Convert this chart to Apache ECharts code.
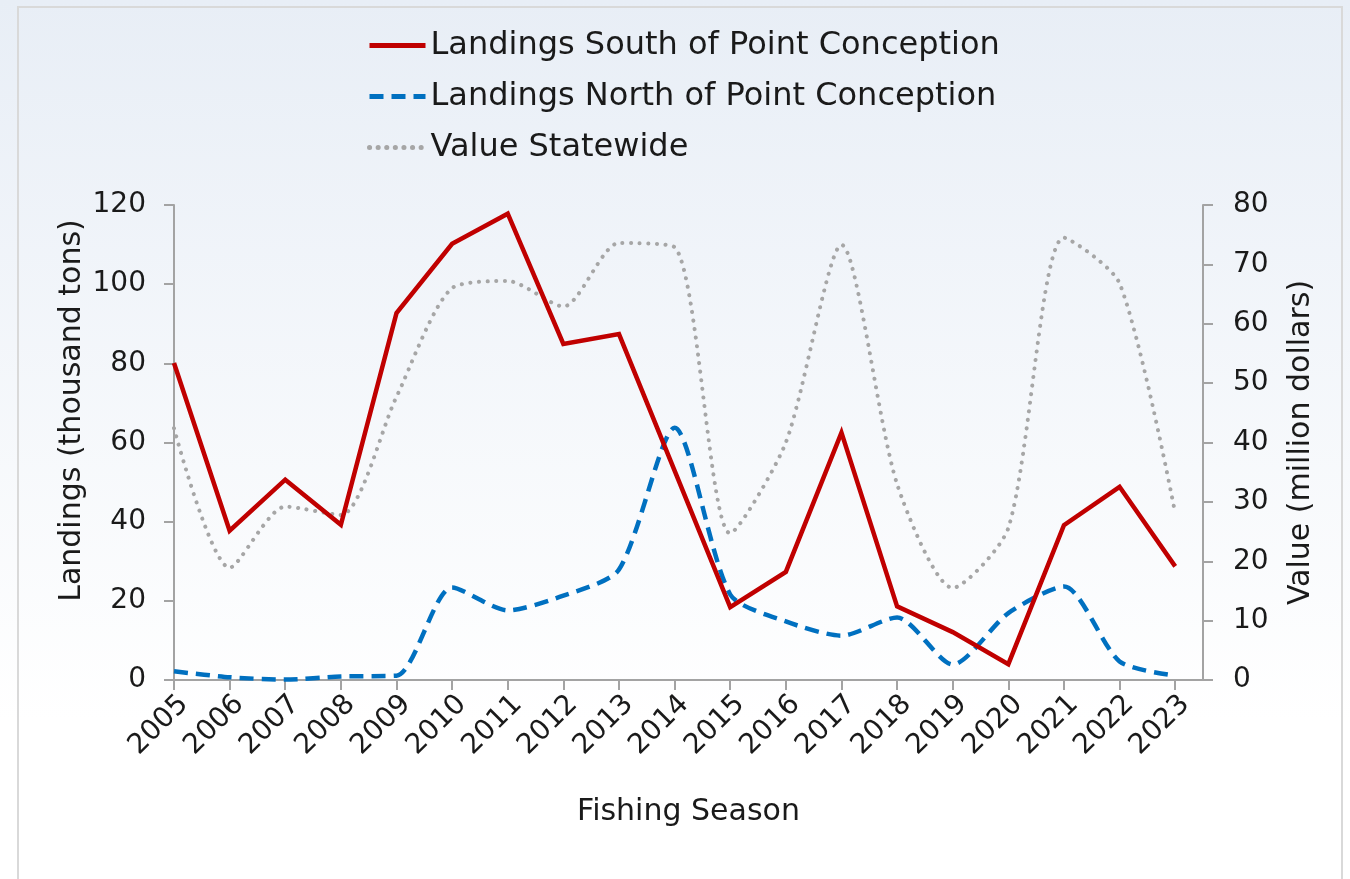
<!DOCTYPE html>
<html>
<head>
<meta charset="utf-8">
<script src="https://cdn.jsdelivr.net/npm/echarts@6/dist/echarts.min.js"></script>
<style>
html, body { margin: 0; padding: 0; }
#chart { width: 1350px; height: 879px; }
</style>
</head>
<body>
<div id="chart"></div>
<script>
// fishing seasons
var years = [2005, 2006, 2007, 2008, 2009, 2010, 2011, 2012, 2013, 2014,
             2015, 2016, 2017, 2018, 2019, 2020, 2021, 2022, 2023];
// landings, thousand tons
var southLandings = [80.1, 37.7, 50.6, 39.2, 92.7, 110.2, 117.8, 84.9, 87.4, 52.9,
                     18.4, 27.3, 62.5, 18.6, 12.1, 4.0, 39.1, 48.8, 28.7];
var northLandings = [2.2, 0.7, 0.1, 0.9, 1.1, 23.4, 17.6, 21.3, 27.9, 63.7,
                     21.6, 14.8, 11.2, 15.8, 3.9, 16.9, 23.6, 4.7, 1.1];
// value, million dollars
var valueStatewide = [42.4, 18.9, 29.2, 27.8, 47.7, 66.0, 67.2, 62.9, 73.6, 72.9,
                      24.7, 40.0, 73.3, 33.0, 15.5, 25.6, 74.5, 66.8, 28.1];

function pairs(vals) {
    return years.map(function (y, i) { return [y, vals[i]]; });
}

var font = 'DejaVu Sans';
var axisColor = '#a3a3a3';
var txt = '#1a1a1a';

var chart = echarts.init(document.getElementById('chart'));
var option = {
    backgroundColor: new echarts.graphic.LinearGradient(0, 0, 0, 1, [
        { offset: 0, color: '#e8eef6' },
        { offset: 0.82, color: '#ffffff' },
        { offset: 1, color: '#ffffff' }
    ]),
    textStyle: { fontFamily: font, color: txt },
    graphic: [{
        type: 'rect',
        shape: { x: 18, y: 7, width: 1324, height: 900 },
        style: { fill: 'none', stroke: '#d9d9d9', lineWidth: 2 },
        silent: true
    }],
    legend: {
        orient: 'vertical',
        left: 362,
        top: 23,
        itemWidth: 56,
        itemHeight: 14,
        itemGap: 16,
        itemStyle: { opacity: 0 },
        lineStyle: { width: 5 },
        textStyle: { fontSize: 32, fontFamily: font, color: txt, lineHeight: 35, padding: [0, 0, 0, 0] },
        data: ['Landings South of Point Conception', 'Landings North of Point Conception', 'Value Statewide']
    },
    grid: { left: 174, right: 147, top: 205, bottom: 199, containLabel: false },
    xAxis: {
        type: 'value',
        min: 2005,
        max: 2023.5,
        interval: 1,
        name: 'Fishing Season',
        nameLocation: 'middle',
        nameGap: 117,
        nameTextStyle: { fontSize: 30, fontFamily: font, color: txt },
        splitLine: { show: false },
        axisLine: { lineStyle: { color: axisColor, width: 2 } },
        axisTick: { show: true, length: 10, lineStyle: { color: axisColor, width: 2 }, customValues: years },
        axisLabel: {
            customValues: years,
            rotate: 45,
            margin: 10,
            fontSize: 28,
            fontFamily: font,
            color: txt,
            verticalAlign: 'top',
            formatter: function (v) { return String(v); }
        }
    },
    yAxis: [{
        type: 'value',
        min: 0,
        max: 120,
        interval: 20,
        name: 'Landings (thousand tons)',
        nameLocation: 'middle',
        nameGap: 87,
        nameMoveOverlap: false,
        nameTextStyle: { fontSize: 30, fontFamily: font, color: txt, padding: [0, 0, 0, 64] },
        splitLine: { show: false },
        axisLine: { show: true, lineStyle: { color: axisColor, width: 2 } },
        axisTick: { show: true, length: 10, lineStyle: { color: axisColor, width: 2 } },
        axisLabel: { fontSize: 28, fontFamily: font, color: txt, margin: 28 }
    }, {
        type: 'value',
        min: 0,
        max: 80,
        interval: 10,
        name: 'Value (million dollars)',
        nameLocation: 'middle',
        nameGap: 83,
        nameTextStyle: { fontSize: 30, fontFamily: font, color: txt },
        splitLine: { show: false },
        axisLine: { show: true, lineStyle: { color: axisColor, width: 2 } },
        axisTick: { show: true, length: 10, lineStyle: { color: axisColor, width: 2 } },
        axisLabel: { fontSize: 28, fontFamily: font, color: txt, margin: 30 }
    }],
    series: [{
        name: 'Landings South of Point Conception',
        type: 'line',
        yAxisIndex: 0,
        symbol: 'none',
        data: pairs(southLandings),
        color: '#c00000',
        lineStyle: { color: '#c00000', width: 4.5, join: 'miter' },
        z: 3
    }, {
        name: 'Landings North of Point Conception',
        type: 'line',
        yAxisIndex: 0,
        symbol: 'none',
        smooth: 0.25,
        data: pairs(northLandings),
        color: '#0070c0',
        lineStyle: { color: '#0070c0', width: 4.5, type: [14, 8] },
        z: 2
    }, {
        name: 'Value Statewide',
        type: 'line',
        yAxisIndex: 1,
        symbol: 'none',
        smooth: 0.25,
        data: pairs(valueStatewide),
        color: '#a6a6a6',
        lineStyle: { color: '#a6a6a6', width: 4, type: [0.1, 8.5], cap: 'round' },
        z: 1
    }]
};
chart.setOption(option);
</script>
</body>
</html>
